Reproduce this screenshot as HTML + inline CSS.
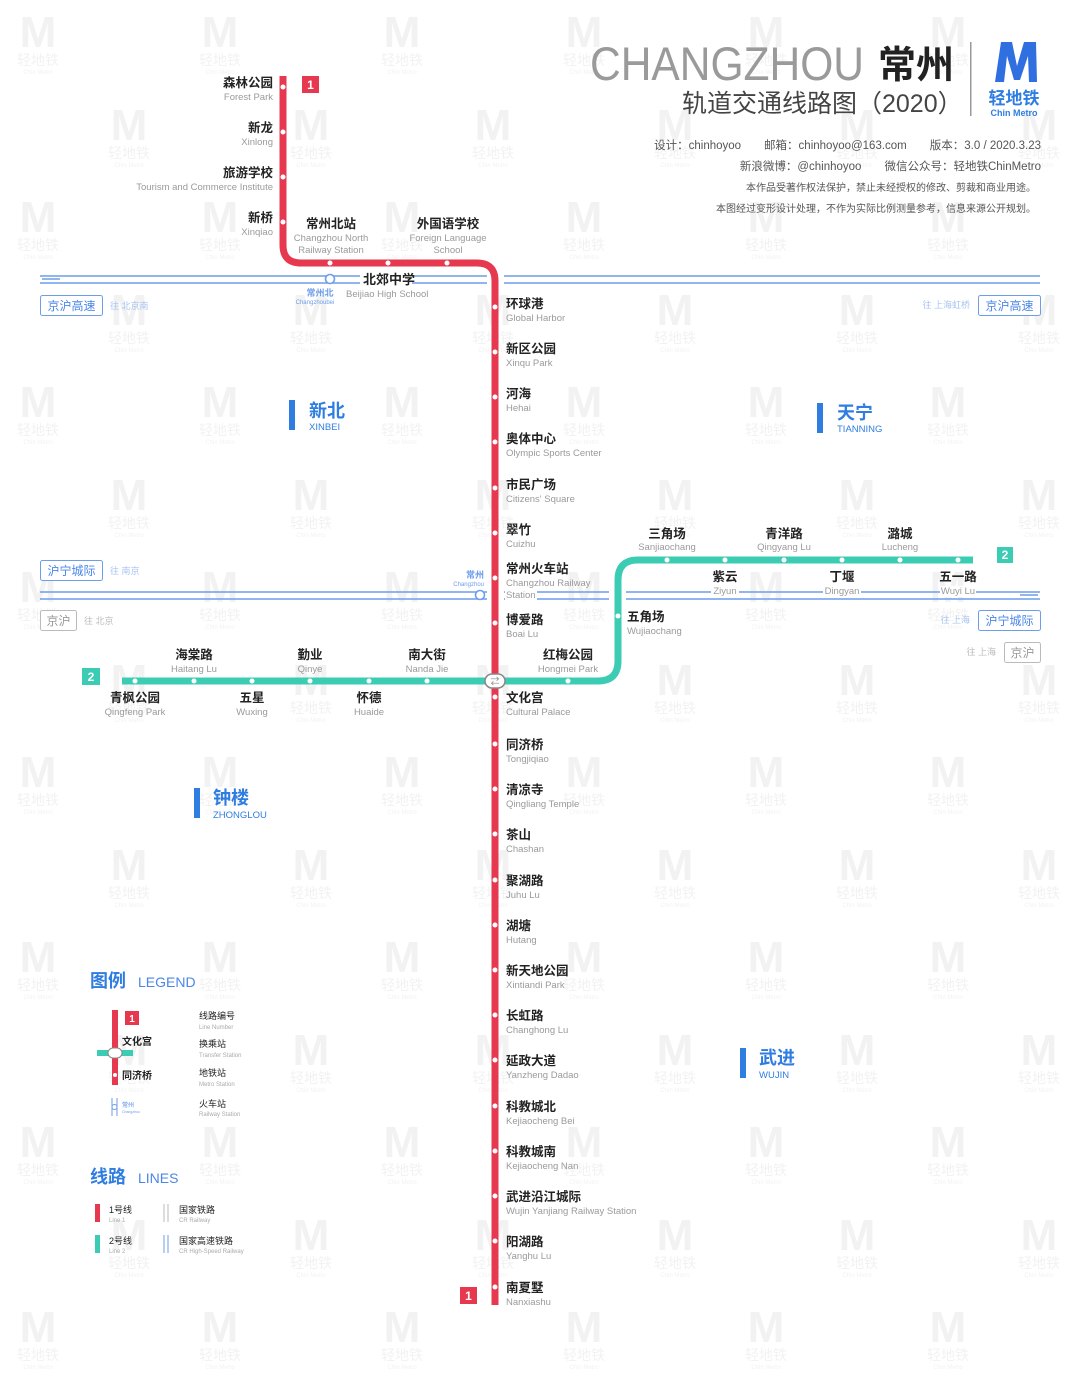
<!DOCTYPE html>
<html><head><meta charset="utf-8"><style>
html,body{margin:0;padding:0;background:#fff;}
svg{display:block;}
text{font-family:"Liberation Sans","Noto Sans CJK SC",sans-serif;}
.cn{font-size:12.5px;font-weight:bold;fill:#222;}
.en{font-size:9.5px;fill:#9a9a9a;}
.dot{fill:#fff;}
</style></head><body>
<svg width="1080" height="1384" viewBox="0 0 1080 1384" xmlns="http://www.w3.org/2000/svg">
<defs>
<pattern id="wm" x="0" y="0" width="182" height="185" patternUnits="userSpaceOnUse">
 <g fill="#f2f2f2">
  <text x="38" y="47" font-size="44" font-weight="bold" text-anchor="middle">M</text>
  <text x="38" y="65" font-size="14" text-anchor="middle">轻地铁</text>
  <text x="38" y="74" font-size="6" text-anchor="middle">Chin Metro</text>
  <text x="129" y="140" font-size="44" font-weight="bold" text-anchor="middle">M</text>
  <text x="129" y="158" font-size="14" text-anchor="middle">轻地铁</text>
  <text x="129" y="167" font-size="6" text-anchor="middle">Chin Metro</text>
 </g>
</pattern>
</defs>
<rect width="1080" height="1384" fill="#fff"/>
<rect width="1080" height="1384" fill="url(#wm)"/>

<!-- Header -->
<text x="590" y="80" font-size="47" fill="#9a9a9a" textLength="274" lengthAdjust="spacingAndGlyphs">CHANGZHOU</text>
<text x="878" y="78" font-size="38" font-weight="bold" fill="#222">常州</text>
<text x="682" y="112" font-size="25" fill="#444">轨道交通线路图（2020）</text>
<rect x="970" y="42" width="1.5" height="74" fill="#999"/>
<polygon points="995,82 1001,42 1012,42 1017,66 1024,42 1036,42 1037,82 1029,82 1028,56 1020,80 1014,80 1007,56 1004,82" fill="#2f6fe0"/>
<text x="1014" y="104" font-size="17" font-weight="bold" fill="#2f7de1" text-anchor="middle">轻地铁</text>
<text x="1014" y="116" font-size="9" font-weight="bold" fill="#2f7de1" text-anchor="middle">Chin Metro</text>
<g fill="#555" text-anchor="end">
<text x="1041" y="149" font-size="11.5">设计：chinhoyoo　　邮箱：chinhoyoo@163.com　　版本：3.0 / 2020.3.23</text>
<text x="1041" y="170" font-size="11.5">新浪微博：@chinhoyoo　　微信公众号：轻地铁ChinMetro</text>
<text x="1036" y="191" font-size="10">本作品受著作权法保护，禁止未经授权的修改、剪裁和商业用途。</text>
<text x="1036" y="212" font-size="10">本图经过变形设计处理，不作为实际比例测量参考，信息来源公开规划。</text>
</g>

<!-- Railways -->
<g stroke="#6d9eea" stroke-width="1.6" fill="none">
<line x1="40" y1="276" x2="487" y2="276"/><line x1="40" y1="283" x2="487" y2="283"/>
<line x1="504" y1="276" x2="1040" y2="276"/><line x1="504" y1="283" x2="1040" y2="283"/>
<line x1="40" y1="592" x2="487" y2="592"/><line x1="40" y1="599" x2="487" y2="599"/>
<line x1="504" y1="592" x2="609" y2="592"/><line x1="504" y1="599" x2="609" y2="599"/>
<line x1="626" y1="592" x2="1040" y2="592"/><line x1="626" y1="599" x2="1040" y2="599"/>
<line x1="42" y1="279" x2="60" y2="279"/><line x1="1020" y1="595" x2="1038" y2="595"/>
</g>
<circle cx="330" cy="279" r="4.5" fill="#fff" stroke="#6d9eea" stroke-width="1.6"/>
<circle cx="480" cy="595" r="4.5" fill="#fff" stroke="#6d9eea" stroke-width="1.6"/>
<text x="320" y="296" font-size="9" font-weight="bold" fill="#6d9eea" text-anchor="middle">常州北</text>
<text x="315" y="304" font-size="6" fill="#6d9eea" text-anchor="middle">Changzhoubei</text>
<text x="484" y="578" font-size="9" font-weight="bold" fill="#6d9eea" text-anchor="end">常州</text>
<text x="484" y="586" font-size="6" fill="#6d9eea" text-anchor="end">Changzhou</text>

<g font-size="12" fill="#4a86e8">
<rect x="40.5" y="295.5" width="62" height="20" rx="2" fill="#fff" stroke="#6d9eea"/><text x="71.5" y="310" text-anchor="middle">京沪高速</text>
<text x="110" y="309" font-size="9" fill="#a8c4f0">往 北京南</text>
<rect x="978.5" y="295.5" width="62" height="20" rx="2" fill="#fff" stroke="#6d9eea"/><text x="1009.5" y="310" text-anchor="middle">京沪高速</text>
<text x="970" y="308" font-size="9" fill="#a8c4f0" text-anchor="end">往 上海虹桥</text>
<rect x="40.5" y="560.5" width="62" height="20" rx="2" fill="#fff" stroke="#6d9eea"/><text x="71.5" y="575" text-anchor="middle">沪宁城际</text>
<text x="110" y="574" font-size="9" fill="#a8c4f0">往 南京</text>
<rect x="978.5" y="610.5" width="62" height="20" rx="2" fill="#fff" stroke="#6d9eea"/><text x="1009.5" y="625" text-anchor="middle">沪宁城际</text>
<text x="970" y="623" font-size="9" fill="#a8c4f0" text-anchor="end">往 上海</text>
<rect x="40.5" y="610.5" width="36" height="20" rx="2" fill="#fff" stroke="#bbb"/><text x="58.5" y="625" text-anchor="middle" fill="#999">京沪</text>
<text x="84" y="624" font-size="9" fill="#bbb">往 北京</text>
<rect x="1004.5" y="642.5" width="36" height="20" rx="2" fill="#fff" stroke="#bbb"/><text x="1022.5" y="657" text-anchor="middle" fill="#999">京沪</text>
<text x="996" y="655" font-size="9" fill="#bbb" text-anchor="end">往 上海</text>
</g>

<!-- Line 2 -->
<path d="M122 681 H598 Q618 681 618 661 V580 Q618 560 638 560 H973" fill="none" stroke="#3cccb4" stroke-width="7"/>
<!-- Line 1 -->
<path d="M283 76 V245 Q283 263 301 263 H477 Q495 263 495 281 V1305" fill="none" stroke="#e63950" stroke-width="7"/>

<g class="dot">
<circle cx="283" cy="87" r="2.5"/><circle cx="283" cy="132" r="2.5"/><circle cx="283" cy="177" r="2.5"/><circle cx="283" cy="222" r="2.5"/>
<circle cx="330" cy="263" r="2.5"/><circle cx="388" cy="263" r="2.5"/><circle cx="447" cy="263" r="2.5"/>
<circle cx="495" cy="307" r="2.5"/><circle cx="495" cy="352" r="2.5"/><circle cx="495" cy="397" r="2.5"/><circle cx="495" cy="442" r="2.5"/><circle cx="495" cy="488" r="2.5"/><circle cx="495" cy="533" r="2.5"/><circle cx="495" cy="578" r="2.5"/><circle cx="495" cy="623" r="2.5"/><circle cx="495" cy="697" r="2.5"/><circle cx="495" cy="744" r="2.5"/><circle cx="495" cy="789" r="2.5"/><circle cx="495" cy="834" r="2.5"/><circle cx="495" cy="880" r="2.5"/><circle cx="495" cy="925" r="2.5"/><circle cx="495" cy="970" r="2.5"/><circle cx="495" cy="1015" r="2.5"/><circle cx="495" cy="1060" r="2.5"/><circle cx="495" cy="1106" r="2.5"/><circle cx="495" cy="1151" r="2.5"/><circle cx="495" cy="1196" r="2.5"/><circle cx="495" cy="1241" r="2.5"/><circle cx="495" cy="1287" r="2.5"/>
<circle cx="135" cy="681" r="2.5"/><circle cx="194" cy="681" r="2.5"/><circle cx="252" cy="681" r="2.5"/><circle cx="310" cy="681" r="2.5"/><circle cx="369" cy="681" r="2.5"/><circle cx="427" cy="681" r="2.5"/><circle cx="568" cy="681" r="2.5"/>
<circle cx="618" cy="616" r="2.5"/>
<circle cx="667" cy="560" r="2.5"/><circle cx="725" cy="560" r="2.5"/><circle cx="784" cy="560" r="2.5"/><circle cx="842" cy="560" r="2.5"/><circle cx="900" cy="560" r="2.5"/><circle cx="958" cy="560" r="2.5"/>
</g>
<rect x="485" y="674" width="20" height="14" rx="7" fill="#fff" stroke="#888" stroke-width="1.5"/>
<text x="495" y="684.5" font-size="9" fill="#888" text-anchor="middle">⇄</text>

<!-- badges -->
<g font-size="12" font-weight="bold" fill="#fff" text-anchor="middle">
<rect x="302" y="76" width="17" height="17" fill="#e63950"/><text x="310.5" y="89">1</text>
<rect x="460" y="1287" width="17" height="17" fill="#e63950"/><text x="468.5" y="1300">1</text>
<rect x="997" y="547" width="16" height="16" fill="#3cccb4"/><text x="1005" y="559">2</text>
<rect x="82" y="668" width="18" height="17" fill="#3cccb4"/><text x="91" y="681">2</text>
</g>

<!-- Line 1 upper labels -->
<g text-anchor="end">
<text class="cn" x="273" y="87">森林公园</text><text class="en" x="273" y="100">Forest Park</text>
<text class="cn" x="273" y="132">新龙</text><text class="en" x="273" y="145">Xinlong</text>
<text class="cn" x="273" y="177">旅游学校</text><text class="en" x="273" y="190">Tourism and Commerce Institute</text>
<text class="cn" x="273" y="222">新桥</text><text class="en" x="273" y="235">Xinqiao</text>
</g>
<g text-anchor="middle">
<text class="cn" x="331" y="228">常州北站</text><text class="en" x="331" y="241">Changzhou North</text><text class="en" x="331" y="253">Railway Station</text>
<text class="cn" x="448" y="228">外国语学校</text><text class="en" x="448" y="241">Foreign Language</text><text class="en" x="448" y="253">School</text>
</g>
<rect x="360" y="272" width="52" height="15" fill="#fff"/>
<text class="cn" x="363" y="284" style="font-size:13px">北郊中学</text>
<text class="en" x="346" y="297">Beijiao High School</text>

<!-- Line 1 right labels -->
<g>
<text class="cn" x="506" y="308">环球港</text><text class="en" x="506" y="321">Global Harbor</text>
<text class="cn" x="506" y="353">新区公园</text><text class="en" x="506" y="366">Xinqu Park</text>
<text class="cn" x="506" y="398">河海</text><text class="en" x="506" y="411">Hehai</text>
<text class="cn" x="506" y="443">奥体中心</text><text class="en" x="506" y="456">Olympic Sports Center</text>
<text class="cn" x="506" y="489">市民广场</text><text class="en" x="506" y="502">Citizens' Square</text>
<text class="cn" x="506" y="534">翠竹</text><text class="en" x="506" y="547">Cuizhu</text>
<text class="cn" x="506" y="573">常州火车站</text><text class="en" x="506" y="586">Changzhou Railway</text>
<rect x="505" y="590" width="32" height="11" fill="#fff"/><text class="en" x="506" y="598">Station</text>
<text class="cn" x="506" y="624">博爱路</text><text class="en" x="506" y="637">Boai Lu</text>
<text class="cn" x="506" y="702">文化宫</text><text class="en" x="506" y="715">Cultural Palace</text>
<text class="cn" x="506" y="749">同济桥</text><text class="en" x="506" y="762">Tongjiqiao</text>
<text class="cn" x="506" y="794">清凉寺</text><text class="en" x="506" y="807">Qingliang Temple</text>
<text class="cn" x="506" y="839">茶山</text><text class="en" x="506" y="852">Chashan</text>
<text class="cn" x="506" y="885">聚湖路</text><text class="en" x="506" y="898">Juhu Lu</text>
<text class="cn" x="506" y="930">湖塘</text><text class="en" x="506" y="943">Hutang</text>
<text class="cn" x="506" y="975">新天地公园</text><text class="en" x="506" y="988">Xintiandi Park</text>
<text class="cn" x="506" y="1020">长虹路</text><text class="en" x="506" y="1033">Changhong Lu</text>
<text class="cn" x="506" y="1065">延政大道</text><text class="en" x="506" y="1078">Yanzheng Dadao</text>
<text class="cn" x="506" y="1111">科教城北</text><text class="en" x="506" y="1124">Kejiaocheng Bei</text>
<text class="cn" x="506" y="1156">科教城南</text><text class="en" x="506" y="1169">Kejiaocheng Nan</text>
<text class="cn" x="506" y="1201">武进沿江城际</text><text class="en" x="506" y="1214">Wujin Yanjiang Railway Station</text>
<text class="cn" x="506" y="1246">阳湖路</text><text class="en" x="506" y="1259">Yanghu Lu</text>
<text class="cn" x="506" y="1292">南夏墅</text><text class="en" x="506" y="1305">Nanxiashu</text>
</g>

<!-- Line 2 labels -->
<g text-anchor="middle">
<text class="cn" x="667" y="538">三角场</text><text class="en" x="667" y="550">Sanjiaochang</text>
<text class="cn" x="784" y="538">青洋路</text><text class="en" x="784" y="550">Qingyang Lu</text>
<text class="cn" x="900" y="538">潞城</text><text class="en" x="900" y="550">Lucheng</text>
<text class="cn" x="725" y="581">紫云</text><rect x="711" y="586" width="28" height="11" fill="#fff"/><text class="en" x="725" y="594">Ziyun</text>
<text class="cn" x="842" y="581">丁堰</text><rect x="823" y="586" width="38" height="11" fill="#fff"/><text class="en" x="842" y="594">Dingyan</text>
<text class="cn" x="958" y="581">五一路</text><rect x="940" y="586" width="36" height="11" fill="#fff"/><text class="en" x="958" y="594">Wuyi Lu</text>
<text class="cn" x="568" y="659">红梅公园</text><text class="en" x="568" y="672">Hongmei Park</text>
<text class="cn" x="194" y="659">海棠路</text><text class="en" x="194" y="672">Haitang Lu</text>
<text class="cn" x="310" y="659">勤业</text><text class="en" x="310" y="672">Qinye</text>
<text class="cn" x="427" y="659">南大街</text><text class="en" x="427" y="672">Nanda Jie</text>
<text class="cn" x="135" y="702">青枫公园</text><text class="en" x="135" y="715">Qingfeng Park</text>
<text class="cn" x="252" y="702">五星</text><text class="en" x="252" y="715">Wuxing</text>
<text class="cn" x="369" y="702">怀德</text><text class="en" x="369" y="715">Huaide</text>
</g>
<text class="cn" x="627" y="621">五角场</text><text class="en" x="627" y="634">Wujiaochang</text>

<!-- Districts -->
<g fill="#2f7de1">
<rect x="289" y="400" width="6" height="30"/><text x="309" y="417" font-size="18" font-weight="bold">新北</text><text x="309" y="430" font-size="9.5">XINBEI</text>
<rect x="817" y="403" width="6" height="30"/><text x="837" y="419" font-size="18" font-weight="bold">天宁</text><text x="837" y="432" font-size="9.5">TIANNING</text>
<rect x="194" y="788" width="6" height="30"/><text x="213" y="804" font-size="18" font-weight="bold">钟楼</text><text x="213" y="818" font-size="9.5">ZHONGLOU</text>
<rect x="740" y="1048" width="6" height="30"/><text x="759" y="1064" font-size="18" font-weight="bold">武进</text><text x="759" y="1078" font-size="9.5">WUJIN</text>
</g>

<!-- Legend -->
<text x="90" y="987" font-size="18" font-weight="bold" fill="#2f7de1">图例</text>
<text x="138" y="987" font-size="14" fill="#4a86e8">LEGEND</text>
<rect x="112" y="1010" width="6" height="75" fill="#e63950"/>
<rect x="97" y="1050" width="36" height="6" fill="#3cccb4"/>
<rect x="108" y="1048" width="14" height="10" rx="5" fill="#fff" stroke="#888"/>
<circle cx="115" cy="1075" r="2" fill="#fff"/>
<rect x="125" y="1011" width="14" height="14" fill="#e63950"/><text x="132" y="1022" font-size="10" font-weight="bold" fill="#fff" text-anchor="middle">1</text>
<text x="122" y="1045" font-size="10" font-weight="bold" fill="#222">文化宫</text>
<text x="122" y="1079" font-size="10" font-weight="bold" fill="#222">同济桥</text>
<g stroke="#6d9eea" stroke-width="1"><line x1="112" y1="1098" x2="112" y2="1116"/><line x1="117" y1="1098" x2="117" y2="1116"/></g>
<circle cx="114.5" cy="1107" r="2.5" fill="#fff" stroke="#6d9eea"/>
<text x="122" y="1107" font-size="6" fill="#4a86e8">常州</text><text x="122" y="1113" font-size="3.5" fill="#6d9eea">Changzhou</text>
<g font-size="9" fill="#222"><text x="199" y="1019">线路编号</text><text x="199" y="1047">换乘站</text><text x="199" y="1076">地铁站</text><text x="199" y="1107">火车站</text></g>
<g font-size="6" fill="#aaa"><text x="199" y="1029">Line Number</text><text x="199" y="1057">Transfer Station</text><text x="199" y="1086">Metro Station</text><text x="199" y="1116">Railway Station</text></g>

<text x="90" y="1183" font-size="18" font-weight="bold" fill="#2f7de1">线路</text>
<text x="138" y="1183" font-size="14" fill="#4a86e8">LINES</text>
<rect x="95" y="1204" width="5" height="18" fill="#e63950"/>
<rect x="95" y="1235" width="5" height="18" fill="#3cccb4"/>
<g stroke-width="1"><line x1="164" y1="1204" x2="164" y2="1222" stroke="#bbb"/><line x1="168" y1="1204" x2="168" y2="1222" stroke="#bbb"/>
<line x1="164" y1="1235" x2="164" y2="1253" stroke="#6d9eea"/><line x1="168" y1="1235" x2="168" y2="1253" stroke="#6d9eea"/></g>
<g font-size="9" fill="#222"><text x="109" y="1213">1号线</text><text x="109" y="1244">2号线</text><text x="179" y="1213">国家铁路</text><text x="179" y="1244">国家高速铁路</text></g>
<g font-size="6" fill="#aaa"><text x="109" y="1222">Line 1</text><text x="109" y="1253">Line 2</text><text x="179" y="1222">CR Railway</text><text x="179" y="1253">CR High-Speed Railway</text></g>
</svg>
</body></html>
